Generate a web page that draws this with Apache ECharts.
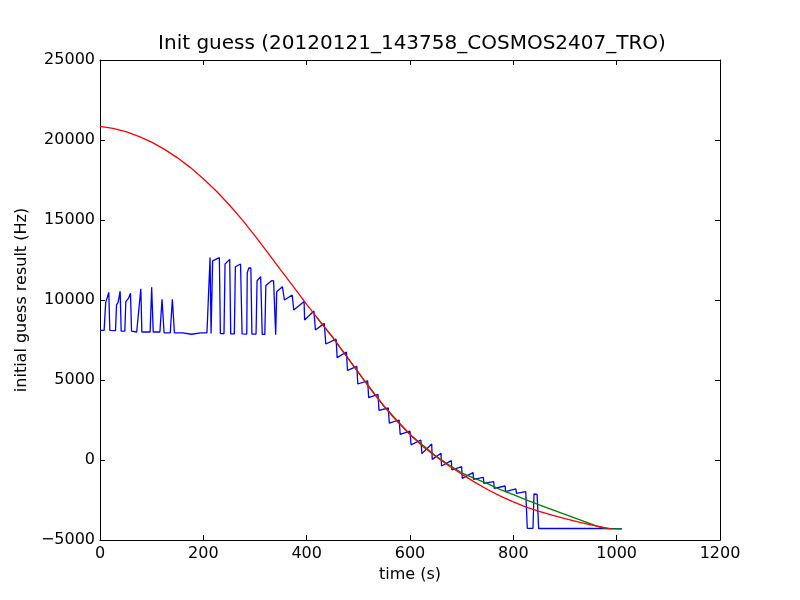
<!DOCTYPE html>
<html>
<head>
<meta charset="utf-8">
<script src="https://cdn.jsdelivr.net/npm/echarts@6/dist/echarts.min.js"></script>
<style>
html,body{margin:0;padding:0;background:#fff;}
#chart{width:800px;height:600px;}
</style>
</head>
<body>
<div id="chart"></div>
<script>
// ---- data (time in s, frequency in Hz) ----
const titleText = "Init guess (20120121_143758_COSMOS2407_TRO)";
const xTicks = [0, 200, 400, 600, 800, 1000, 1200];
const yTicks = [-5000, 0, 5000, 10000, 15000, 20000, 25000];

const blueT = [0, 8, 11, 14, 17, 19, 30, 32, 35, 39, 41, 48, 50, 55, 59, 61, 71, 79, 81, 97, 100, 103, 116, 120, 124, 136, 140, 144, 160, 177, 195, 207,
  213, 215, 218, 221, 231, 233, 240, 242, 251, 253, 260, 262, 272, 275, 284, 285, 288, 292, 294, 302, 304, 311, 314, 319, 321, 332, 336, 340, 342, 353,
  357, 372, 375, 395, 396, 414, 417, 434, 437, 457, 459, 477, 479, 497, 499, 518, 520, 538, 540, 558, 560, 579, 581, 600, 602, 621, 623, 642, 643,
  660, 661, 680, 681, 700, 701, 722, 723, 742, 743, 762, 763, 784, 785, 805, 806, 824, 827, 838, 840, 846, 849, 884, 886, 888, 945, 947, 950, 986, 988, 990, 1010];
const blueV = [8100, 8100, 9850, 10150, 10480, 8100, 8080, 9700, 9850, 10550, 8050, 8050, 9900, 10100, 10420, 8050, 8000, 10700, 8000, 8000, 10800, 8000, 8000, 10050, 7950, 7950, 10050, 7950, 7950, 7860, 7950, 7950,
  12650, 7900, 12450, 12550, 12650, 7900, 7900, 12250, 12540, 7880, 7880, 12080, 12250, 7880, 7870, 11700, 12000, 12000, 7870, 7870, 11200, 11460, 7850, 7850, 10900, 11210, 11200, 7830, 10520, 10830,
  10000, 10310, 9375, 9900, 8750, 9310, 8125, 8540, 7250, 7550, 6400, 6750, 5600, 5850, 4750, 4950, 3900, 4100, 3100, 3250, 2300, 2500, 1600, 1800, 950, 1250, 400, 1000, 40,
  417, -375, -42, -625, -417, -1146, -792, -1208, -1083, -1458, -1354, -1770, -1625, -1979, -1812, -2083, -1979, -4270, -4270, -2125, -2150, -4280, -4280, -4180, -4280, -4280, -4200, -4280, -4290, -4200, -4290, -4300];

const greenT = [420, 450, 500, 550, 600, 650, 675, 700, 725, 750, 775, 800, 825, 850, 875, 900, 925, 950, 965, 980, 1010];
const greenV = [8900, 7680, 5470, 3345, 1595, 250, -300, -800, -1150, -1480, -1850, -2170, -2490, -2800, -3100, -3400, -3700, -3990, -4180, -4290, -4310];

const redT = [0, 25, 50, 75, 100, 125, 150, 175, 200, 225, 250, 275, 300, 325, 350, 375, 400, 425, 450, 475, 500, 525, 550, 575, 600, 625, 650, 675, 700, 725, 750, 775, 800, 825, 850, 875, 900, 925, 950, 975, 990];
const redV = [20850, 20725, 20518, 20231, 19863, 19414, 18884, 18274, 17582, 16810, 15956, 15022, 14007, 12940, 11870, 10800, 9730, 8700, 7680, 6570, 5470, 4370, 3345, 2420, 1595, 845, 220, -355, -880, -1380, -1842, -2255, -2617, -2942, -3205, -3442, -3667, -3867, -4055, -4217, -4300];

const pairs = (t, v) => t.map((x, i) => [x, v[i]]);

const font = 'DejaVu Sans';
const chart = echarts.init(document.getElementById('chart'), null, {renderer: 'canvas'});

const baseAxis = () => ({
  axisLine: {show: true, onZero: false, lineStyle: {color: '#000', width: 1}},
  axisTick: {show: true, inside: true, length: 5, lineStyle: {color: '#000', width: 1}},
  splitLine: {show: false},
  minorTick: {show: false}
});

chart.setOption({
  animation: false,
  backgroundColor: '#fff',
  title: {
    text: titleText,
    left: 407, top: 29, textAlign: 'center',
    textStyle: {fontFamily: font, fontSize: 20, fontWeight: 'normal', color: '#000'}
  },
  grid: {left: 100, right: 80, top: 60, bottom: 60, containLabel: false},
  xAxis: [
    Object.assign(baseAxis(), {
      type: 'value', min: 0, max: 1200, interval: 200, position: 'bottom',
      name: 'time (s)', nameLocation: 'middle', nameGap: 20,
      nameTextStyle: {fontFamily: font, fontSize: 16, color: '#000'},
      axisLabel: {fontFamily: font, fontSize: 16, color: '#000', margin: 6,
        formatter: v => xTicks.includes(v) ? String(v) : ''}
    }),
    Object.assign(baseAxis(), {
      type: 'value', min: 0, max: 1200, interval: 200, position: 'top',
      axisLabel: {show: false}
    })
  ],
  yAxis: [
    Object.assign(baseAxis(), {
      type: 'value', min: -5000, max: 25000, interval: 5000, position: 'left',
      name: 'initial guess result (Hz)', nameLocation: 'middle', nameGap: 60, nameRotate: 90,
      nameTextStyle: {fontFamily: font, fontSize: 16, color: '#000'},
      axisLabel: {fontFamily: font, fontSize: 16, color: '#000', margin: 5,
        formatter: v => yTicks.includes(v) ? (v < 0 ? '\u2212' + Math.abs(v) : String(v)) : ''}
    }),
    Object.assign(baseAxis(), {
      type: 'value', min: -5000, max: 25000, interval: 5000, position: 'right',
      axisLabel: {show: false}
    })
  ],
  series: [
    {type: 'line', name: 'guess', data: pairs(blueT, blueV), xAxisIndex: 0, yAxisIndex: 0,
      showSymbol: false, symbol: 'none', lineStyle: {color: '#0000ff', width: 1.3}, z: 2},
    {type: 'line', name: 'fit2', data: pairs(greenT, greenV), xAxisIndex: 0, yAxisIndex: 0,
      showSymbol: false, symbol: 'none', lineStyle: {color: '#008000', width: 1.3}, z: 3},
    {type: 'line', name: 'fit', data: pairs(redT, redV), xAxisIndex: 0, yAxisIndex: 0,
      showSymbol: false, symbol: 'none', lineStyle: {color: '#ff0000', width: 1.3}, z: 4}
  ]
});
</script>
</body>
</html>
